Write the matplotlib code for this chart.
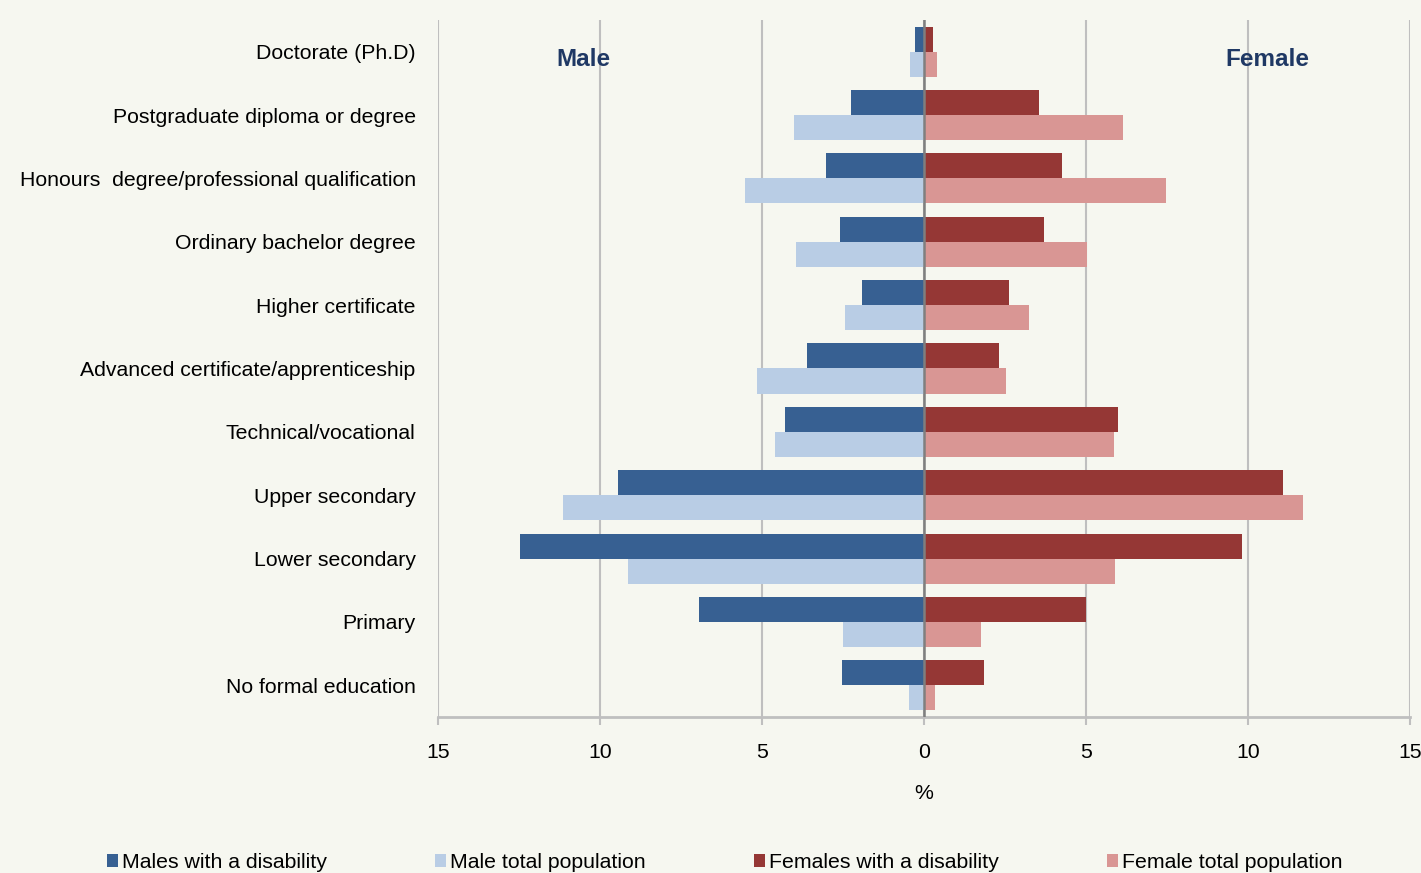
import matplotlib.pyplot as plt
import numpy as np

plt.rcParams['font.family'] = ['Liberation Sans', 'DejaVu Sans']

# Data (percent)
categories = ["Doctorate (Ph.D)", "Postgraduate diploma or degree",
              "Honours  degree/professional qualification", "Ordinary bachelor degree",
              "Higher certificate", "Advanced certificate/apprenticeship",
              "Technical/vocational", "Upper secondary", "Lower secondary",
              "Primary", "No formal education"]
male_dis = [0.28, 2.25, 3.02, 2.59, 1.91, 3.61, 4.29, 9.44, 12.47, 6.94, 2.53]
male_tot = [0.43, 4.00, 5.52, 3.95, 2.44, 5.15, 4.60, 11.14, 9.14, 2.50, 0.46]
female_dis = [0.28, 3.55, 4.26, 3.70, 2.62, 2.31, 5.99, 11.08, 9.81, 5.00, 1.85]
female_tot = [0.40, 6.14, 7.47, 5.03, 3.24, 2.53, 5.86, 11.70, 5.90, 1.76, 0.34]
xticks = [-15, -10, -5, 0, 5, 10, 15]

c_mdis = "#376092"
c_mtot = "#B9CDE5"
c_fdis = "#953735"
c_ftot = "#D99694"
bg = "#F6F7F0"

fig = plt.figure(figsize=(14.21, 8.73), dpi=100, facecolor=bg)
ax = fig.add_axes([0.3082, 0.1787, 0.6841, 0.7984], facecolor=bg)

n = len(categories)
y = np.arange(n)[::-1]
h = 0.395

b1 = ax.barh(y + h / 2, -np.array(male_dis), height=h, color=c_mdis, zorder=2, label="Males with a disability")
b2 = ax.barh(y - h / 2, -np.array(male_tot), height=h, color=c_mtot, zorder=2, label="Male total population")
b3 = ax.barh(y + h / 2, female_dis, height=h, color=c_fdis, zorder=2, label="Females with a disability")
b4 = ax.barh(y - h / 2, female_tot, height=h, color=c_ftot, zorder=2, label="Female total population")

ax.axvline(0, color="#7F7F7F", lw=1.8, zorder=3)

ax.set_xlim(-15, 15)
ax.set_ylim(-0.5, n - 0.5)
ax.set_xticks(xticks)
ax.set_xticklabels([str(abs(t)) for t in xticks], fontsize=15.3)
ax.set_yticks(y)
ax.set_yticklabels(categories, fontsize=15.3)
ax.tick_params(axis='y', length=0, pad=16)
ax.tick_params(axis='x', length=6, color="#BFBFBF", width=1.5, pad=12.5)
ax.grid(axis='x', color="#BFBFBF", lw=1.5, zorder=1)
for s in ["top", "right", "left"]:
    ax.spines[s].set_visible(False)
ax.spines["bottom"].set_color("#BFBFBF")
ax.spines["bottom"].set_linewidth(2)
ax.set_xlabel("%", fontsize=15.3, labelpad=16)

ax.text(-10.5, 9.88, "Male", fontsize=17.5, fontweight="bold", color="#1F3864", ha="center", va="center")
ax.text(10.6, 9.88, "Female", fontsize=17.5, fontweight="bold", color="#1F3864", ha="center", va="center")

fig.legend(handles=[b1, b2, b3, b4], loc="center", bbox_to_anchor=(0.51, 0.012), ncol=4,
           frameon=False, fontsize=15.3, handlelength=0.5, handleheight=0.5,
           handletextpad=0.2, columnspacing=5.1)

fig.savefig("out.png", dpi=100, facecolor=bg)
